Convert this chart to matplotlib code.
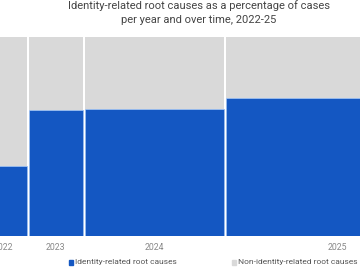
import matplotlib
matplotlib.use("Agg")
import matplotlib.pyplot as plt
import numpy as np
from matplotlib.patches import Rectangle

years = ["2022", "2023", "2024", "2025"]
case_counts = [49, 56, 141, 226]           # relative width of each year's column
identity_share = [0.352, 0.633, 0.638, 0.693]  # share of identity-related root causes

blue = "#1457c2"
gray = "#d9d9d9"

plt.rcParams['font.family'] = ['Roboto', 'DejaVu Sans']

fig = plt.figure(figsize=(3.6, 2.7), dpi=100)
ax = fig.add_axes([0, 34/270, 1, 199/270])

gap = 2.5
widths = np.array(case_counts)
lefts = -20 + np.concatenate([[0], np.cumsum(widths)[:-1]])
ident = np.array(identity_share)
non_ident = 1 - ident

ax.bar(lefts, non_ident, width=widths - gap, bottom=ident, align='edge', color=gray,
       edgecolor='none', linewidth=0)
ax.bar(lefts, ident, width=widths - gap, align='edge', color=blue,
       edgecolor='#9cc0f0', linewidth=0.5)

ax.set_xlim(0, 360)
ax.set_ylim(0, 1)
for s in ax.spines.values():
    s.set_visible(False)
ax.set_yticks([])
centers = lefts + (widths - gap) / 2
ax.set_xticks(centers)
ax.set_xticklabels(years, fontsize=6.3, color="#888888")
ax.tick_params(axis='x', length=0, pad=5)

fig.text(199/360, 1 - 6/270, "Identity-related root causes as a percentage of cases",
         ha='center', va='center', fontsize=8, color="#444444")
fig.text(199/360, 1 - 20/270, "per year and over time, 2022-25",
         ha='center', va='center', fontsize=8, color="#444444")

# legend
def legend_item(x_px, label, color):
    y_px = 262
    fig.patches.append(Rectangle((x_px / 360, 1 - (y_px + 3) / 270), 4 / 360, 5 / 270,
                                 transform=fig.transFigure, color=color, figure=fig))
    fig.text((x_px + 6) / 360, 1 - y_px / 270, label, ha='left', va='center',
             fontsize=6, color="#555555")

legend_item(69, "Identity-related root causes", blue)
legend_item(232, "Non-identity-related root causes", gray)

fig.savefig("out.png", dpi=100)
